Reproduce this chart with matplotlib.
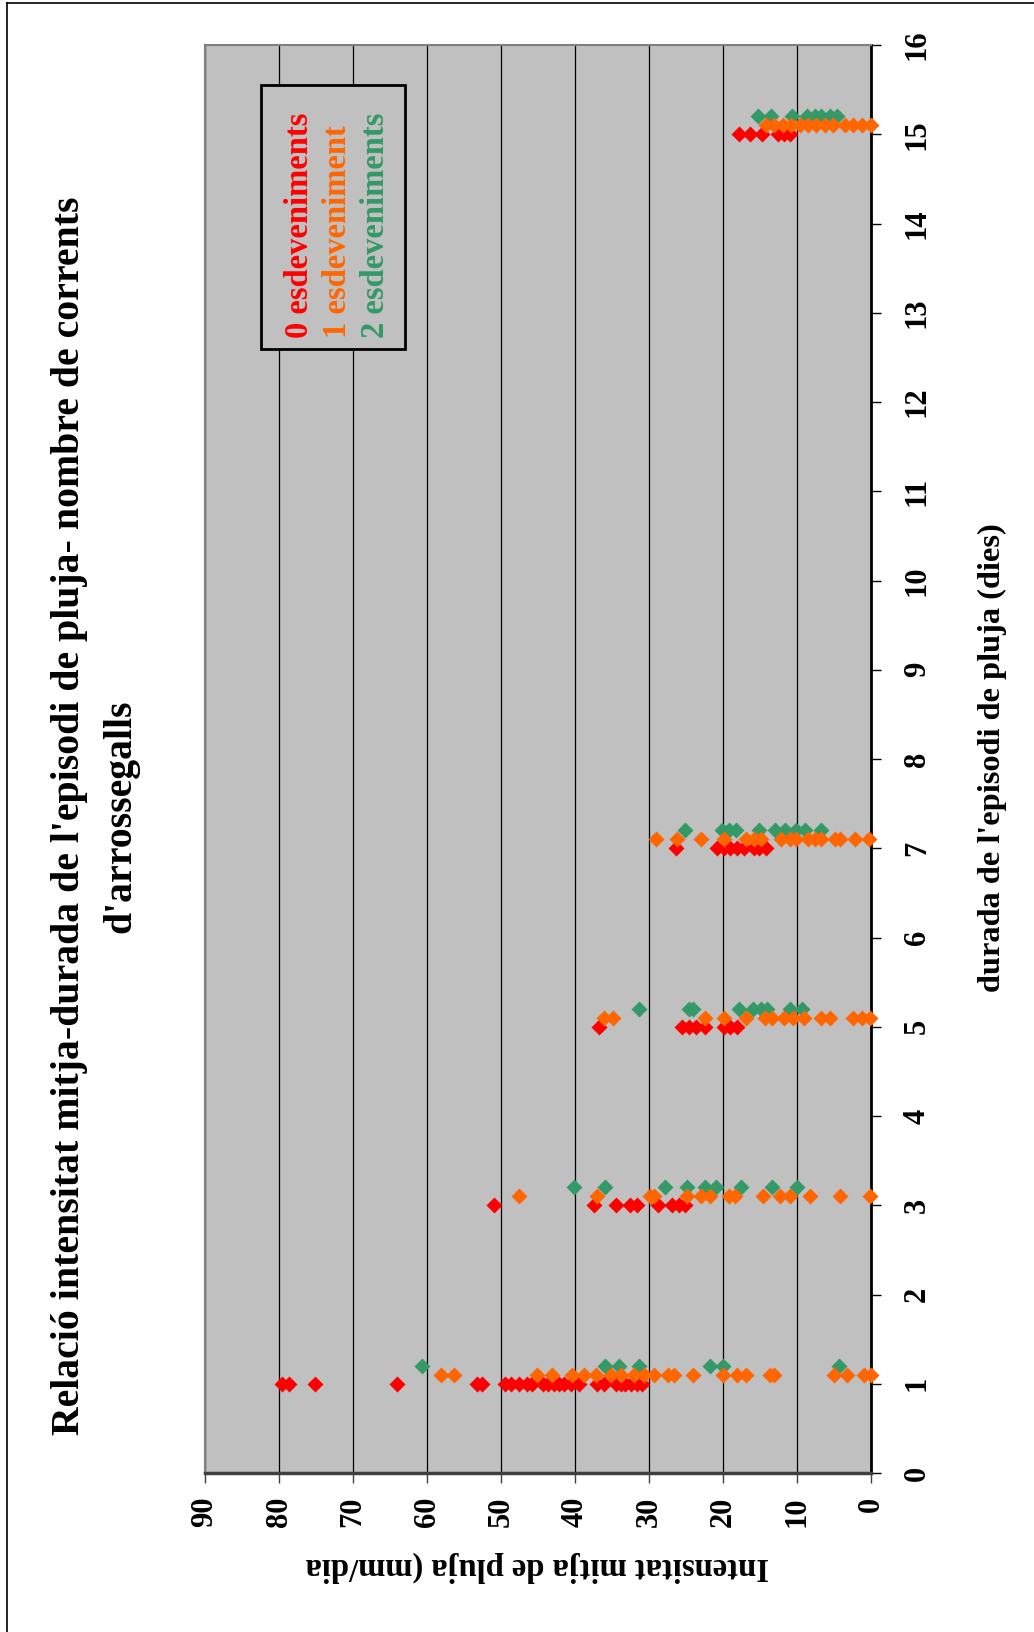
import numpy as np
import matplotlib
matplotlib.use('Agg')
import matplotlib.pyplot as plt
from matplotlib.patches import Rectangle
from matplotlib.lines import Line2D

# ======================= data =============================================
# durada (dies) per serie; Excel shifts series 1 and 2 a bit to avoid overlap
dur_0 = [1, 3, 5, 7, 15]
dur_1 = [1.1, 3.1, 5.1, 7.1, 15.1]
dur_2 = [1.2, 3.2, 5.2, 7.2, 15.2]

# intensitat mitja (mm/dia) for each duration, in the order above
int_0 = [
    [79.6, 78.6, 75.2, 64.1, 53.2, 52.6, 49.5, 48.6, 47.6, 46.5, 45.8, 44.3,
     43.6, 42.9, 42.2, 41.5, 40.6, 39.5, 37.0, 36.1, 34.5, 33.8, 33.2, 32.5,
     31.6, 30.9],
    [51.0, 37.4, 34.4, 32.6, 31.6, 28.8, 26.9, 26.0, 25.2],
    [36.7, 25.5, 24.6, 23.7, 22.4, 19.9, 19.0, 18.1],
    [26.4, 20.8, 19.9, 19.0, 18.1, 17.2, 15.8, 15.1, 14.2],
    [17.9, 16.3, 14.7, 12.6, 11.7, 11.0]]
int_1 = [
    [58.1, 56.4, 45.2, 43.1, 40.4, 38.8, 37.1, 35.2, 33.8, 32.0, 30.7, 29.3,
     27.5, 26.6, 24.0, 20.0, 18.1, 16.9, 13.7, 13.1, 5.0, 3.2, 1.0, 0.0],
    [47.6, 37.0, 29.9, 29.3, 24.9, 23.0, 21.8, 19.2, 18.4, 14.6, 12.3, 10.9,
     8.2, 4.2, 0.2],
    [36.1, 34.9, 22.5, 19.9, 16.9, 14.3, 13.4, 11.8, 10.6, 9.0, 6.8, 5.6,
     2.5, 1.2, 0.2],
    [29.0, 26.2, 23.0, 19.8, 16.9, 15.8, 14.9, 12.2, 11.0, 10.1, 8.5, 7.6,
     6.7, 4.9, 4.2, 2.1, 0.3],
    [14.2, 13.1, 11.9, 10.8, 9.6, 8.5, 7.4, 6.2, 5.1, 3.5, 2.4, 1.2, 0.0]]
int_2 = [
    [60.7, 36.0, 34.1, 31.4, 21.8, 20.0, 4.3],
    [40.2, 35.9, 27.9, 24.8, 22.5, 20.9, 17.6, 13.4, 10.0],
    [31.3, 24.6, 24.0, 17.9, 15.9, 14.9, 14.0, 10.9, 9.3],
    [25.2, 20.1, 19.2, 18.3, 15.2, 13.0, 11.6, 10.1, 8.9, 6.8],
    [15.3, 13.5, 10.7, 8.7, 7.6, 6.7, 5.5, 4.6]]

labels = ['0 esdeveniments', '1 esdeveniment', '2 esdeveniments']
colors = ['#FF0000', '#FF6600', '#339966']
x_ticks = list(range(0, 91, 10))
y_ticks = list(range(0, 17))

title = ("Relació intensitat mitja-durada de l'episodi de pluja- nombre de corrents\n"
         "d'arrossegalls")
xlabel = "durada de l'episodi de pluja (dies)"
ylabel = "Intensitat mitja de pluja (mm/dia"

# ======================= figure ==========================
W, H = 1034, 1632
plt.rcParams['font.family'] = ['Liberation Serif', 'DejaVu Serif']
plt.rcParams['font.weight'] = 'bold'

fig = plt.figure(figsize=(W / 100, H / 100), dpi=100)


def fx(px):
    return px / W


def fy(py):
    return 1 - py / H


# the chart is printed turned a quarter turn: intensity runs right->left,
# duration bottom->top
ax = fig.add_axes([fx(205), fy(1473), fx(871) - fx(205), fy(45) - fy(1473)])
ax.set_facecolor('#C0C0C0')
ax.set_xlim(90, 0)
ax.set_ylim(0, 16)

ax.grid(axis='x', color='black', lw=0.9, zorder=1)
ax.set_axisbelow(True)


def flat(durs, vals):
    xs, ys = [], []
    for d, v in zip(durs, vals):
        xs += v
        ys += [d] * len(v)
    return np.array(xs), np.array(ys)


for durs, vals, c in [(dur_2, int_2, colors[2]), (dur_0, int_0, colors[0]),
                      (dur_1, int_1, colors[1])]:
    xs, ys = flat(durs, vals)
    ax.plot(xs, ys, 'D', color=c, ms=8.2, mec='none', zorder=3, clip_on=False)

ax.set_xticks(x_ticks)
ax.set_xticklabels([str(t) for t in x_ticks], rotation=90, fontsize=22,
                   fontweight='bold')
ax.set_yticks(y_ticks)
ax.set_yticklabels([str(t) for t in y_ticks], rotation=90, fontsize=22,
                   fontweight='bold', va='center')
ax.yaxis.tick_right()
ax.tick_params(axis='x', direction='out', length=7, width=1.0, pad=10,
               color='#404040')
ax.tick_params(axis='y', direction='out', length=7, width=1.0, pad=16,
               color='black')

for s in ['left', 'top']:
    ax.spines[s].set_color('#808080')
    ax.spines[s].set_linewidth(1.5)
ax.spines['bottom'].set_color('#404040')
ax.spines['bottom'].set_linewidth(2.5)
ax.spines['right'].set_color('black')
ax.spines['right'].set_linewidth(2.0)

# legend box, drawn by hand because its text runs upward
ax.add_patch(Rectangle((fx(261), fy(349)), fx(405) - fx(261), fy(85) - fy(349),
                       transform=fig.transFigure, facecolor='#C0C0C0',
                       edgecolor='black', lw=2, zorder=2))
for lab, c, px in zip(labels, colors, [300, 338, 375]):
    fig.text(fx(px), fy(338), lab, rotation=90, ha='center', va='bottom',
             color=c, fontsize=23.5, fontweight='bold')

fig.text(fx(95), fy(816), title, rotation=90, ha='center', va='center',
         multialignment='center', fontsize=28.6, fontweight='bold',
         linespacing=1.5)
fig.text(fx(992), fy(758), xlabel, rotation=90, ha='center', va='center',
         fontsize=23.3, fontweight='bold')
fig.text(fx(537), fy(1567), ylabel, rotation=180, ha='center', va='center',
         fontsize=23.5, fontweight='bold')

# page frame (only left and top edges show)
fig.add_artist(Line2D([fx(7), fx(7)], [fy(3), 0], color='black', lw=1.2))
fig.add_artist(Line2D([fx(7), 1], [fy(3), fy(3)], color='black', lw=1.2))

fig.savefig('out.png', dpi=100)
